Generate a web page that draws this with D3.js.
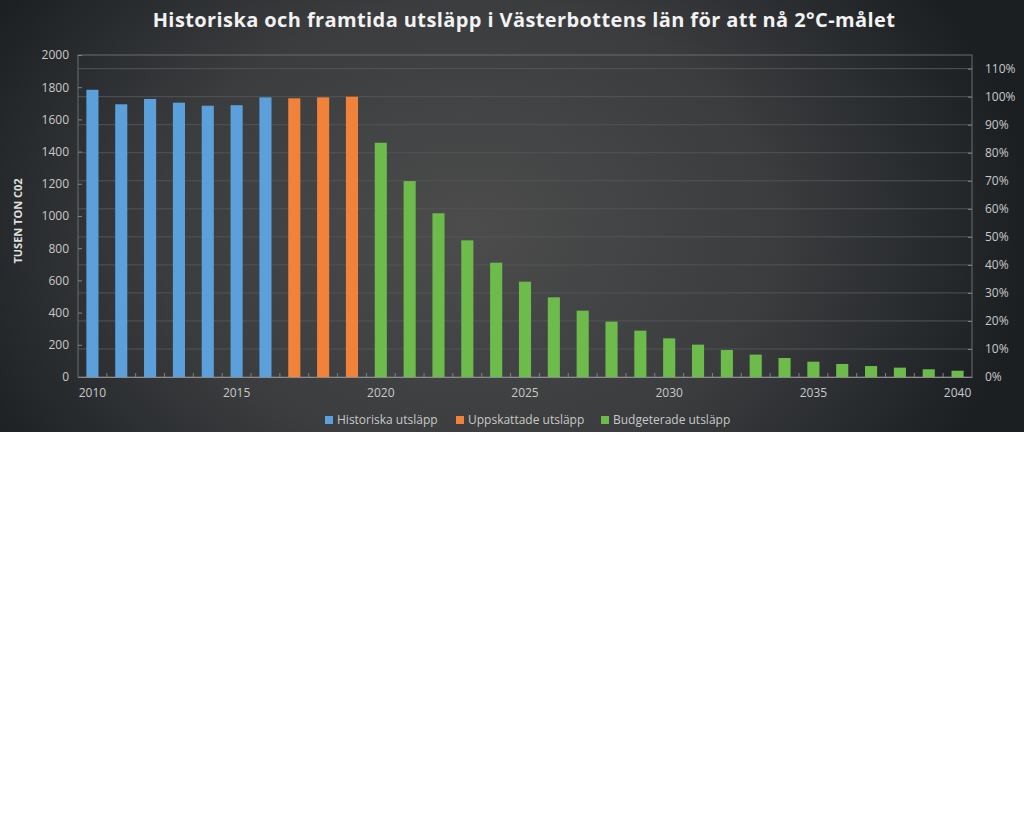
<!DOCTYPE html>
<html>
<head>
<meta charset="utf-8">
<script src="https://cdn.jsdelivr.net/npm/d3@7"></script>
<style>
  body { margin: 0; background: #fff; }
  text { font-family: "Open Sans", sans-serif; }
  .tick text { fill: #c9c9c9; font-size: 12px; }
</style>
</head>
<body>
<div id="chart"></div>
<script>
// data (tusen ton CO2)
var years = d3.range(2010, 2041);
var historiska = [1784, 1694, 1727, 1704, 1685, 1688, 1737];            // 2010-2016
var uppskattade = [1731, 1737, 1741];                                     // 2017-2019
var budgeterade = [1455, 1217, 1017, 849, 710, 592, 495, 412, 344, 288,
                   240, 201, 168, 139, 118, 95, 81, 68, 58, 48, 39];      // 2020-2040
var seriesNames = ["Historiska utsläpp", "Uppskattade utsläpp", "Budgeterade utsläpp"];
var seriesColors = ["#5b9fdb", "#f0823a", "#6cbb4b"];
var leftTicks = [0, 200, 400, 600, 800, 1000, 1200, 1400, 1600, 1800, 2000];
var rightTicks = [0, 0.1, 0.2, 0.3, 0.4, 0.5, 0.6, 0.7, 0.8, 0.9, 1.0, 1.1];
var baseValue = 1741; // 100 % = 2019

var w = 1024, h = 432,
    margin = { top: 55, right: 52, bottom: 55, left: 78 },
    innerW = w - margin.left - margin.right,
    innerH = h - margin.top - margin.bottom;

var bars = [];
historiska.forEach(function(v, i) { bars.push({ year: years[i], value: v, s: 0 }); });
uppskattade.forEach(function(v, i) { bars.push({ year: years[historiska.length + i], value: v, s: 1 }); });
budgeterade.forEach(function(v, i) { bars.push({ year: years[historiska.length + uppskattade.length + i], value: v, s: 2 }); });

var svg = d3.select("#chart").append("svg")
    .attr("width", w)
    .attr("height", h);

/* background */
var defs = svg.append("defs");
var grad = defs.append("radialGradient")
    .attr("id", "bg")
    .attr("gradientUnits", "userSpaceOnUse")
    .attr("cx", 470).attr("cy", 230).attr("r", 560)
    .attr("gradientTransform", "translate(470,230) scale(1,0.75) translate(-470,-230)");
grad.append("stop").attr("offset", "0%").attr("stop-color", "#4c4c4c");
grad.append("stop").attr("offset", "55%").attr("stop-color", "#3a3c3e");
grad.append("stop").attr("offset", "100%").attr("stop-color", "#1c1f22");

svg.append("rect")
    .attr("width", w)
    .attr("height", h)
    .attr("fill", "url(#bg)");

var g = svg.append("g")
    .attr("transform", "translate(" + margin.left + "," + margin.top + ")");

var x = d3.scaleBand().domain(years).range([0, innerW]).paddingInner(0.58).paddingOuter(0.29);
var xb = d3.scaleBand().domain(years).range([0, innerW]);
var y = d3.scaleLinear().domain([0, 2000]).range([innerH, 0]);
var yr = d3.scaleLinear().domain([0, 2000 / baseValue]).range([innerH, 0]);

/* gridlines (on right axis ticks) */
g.append("g").selectAll("line")
    .data(rightTicks.slice(1))
  .enter().append("line")
    .attr("x1", 0).attr("x2", innerW)
    .attr("y1", function(d) { return yr(d); })
    .attr("y2", function(d) { return yr(d); })
    .attr("stroke", "#525456")
    .attr("stroke-width", 1);

/* frame */
g.append("rect")
    .attr("width", innerW)
    .attr("height", innerH)
    .attr("fill", "none")
    .attr("stroke", "#6a6c6e");

/* bars */
g.selectAll("rect.bar")
    .data(bars)
  .enter().append("rect")
    .attr("class", "bar")
    .attr("x", function(d) { return x(d.year); })
    .attr("y", function(d) { return y(d.value); })
    .attr("width", x.bandwidth())
    .attr("height", function(d) { return innerH - y(d.value); })
    .attr("fill", function(d) { return seriesColors[d.s]; });

/* x axis: ticks between bars, labels every 5 years */
g.append("g").selectAll("line")
    .data(years.slice(1))
  .enter().append("line")
    .attr("x1", function(d) { return xb(d); })
    .attr("x2", function(d) { return xb(d); })
    .attr("y1", innerH).attr("y2", innerH - 4)
    .attr("stroke", "#808284");

var xAxis = g.append("g")
    .attr("transform", "translate(0," + innerH + ")")
    .call(d3.axisBottom(x).tickValues(years.filter(function(d) { return d % 5 === 0; })).tickSize(0).tickPadding(11));
xAxis.select(".domain").attr("stroke", "#8a8c8e");

/* left axis */
var yAxis = g.append("g")
    .call(d3.axisLeft(y).tickValues(leftTicks).tickSize(-4).tickPadding(9).tickFormat(d3.format("d")));
yAxis.select(".domain").remove();
yAxis.selectAll(".tick line").attr("stroke", "#808284");

/* right axis */
var yrAxis = g.append("g")
    .attr("transform", "translate(" + innerW + ",0)")
    .call(d3.axisRight(yr).tickValues(rightTicks).tickSize(-4).tickPadding(13).tickFormat(d3.format(".0%")));
yrAxis.select(".domain").remove();
yrAxis.selectAll(".tick line").attr("stroke", "#808284");

/* title */
svg.append("text")
    .attr("x", 524)
    .attr("y", 27)
    .attr("text-anchor", "middle")
    .attr("fill", "#f2f2f2")
    .attr("font-size", "20px")
    .attr("font-weight", "bold")
    .attr("letter-spacing", "0.4px")
    .text("Historiska och framtida utsläpp i Västerbottens län för att nå 2°C-målet");

/* y label */
svg.append("text")
    .attr("transform", "translate(22,221) rotate(-90)")
    .attr("text-anchor", "middle")
    .attr("fill", "#e0e0e0")
    .attr("font-size", "11px")
    .attr("font-weight", "bold")
    .text("TUSEN TON C02");

/* legend */
var legendX = [325, 456, 601];
var legend = svg.append("g").selectAll("g")
    .data(seriesNames)
  .enter().append("g")
    .attr("transform", function(d, i) { return "translate(" + legendX[i] + ",420)"; });
legend.append("rect")
    .attr("x", 0).attr("y", -4)
    .attr("width", 8).attr("height", 8)
    .attr("fill", function(d, i) { return seriesColors[i]; });
legend.append("text")
    .attr("x", 12)
    .attr("dy", "0.35em")
    .attr("fill", "#c9c9c9")
    .attr("font-size", "12px")
    .text(function(d) { return d; });
</script>
</body>
</html>
